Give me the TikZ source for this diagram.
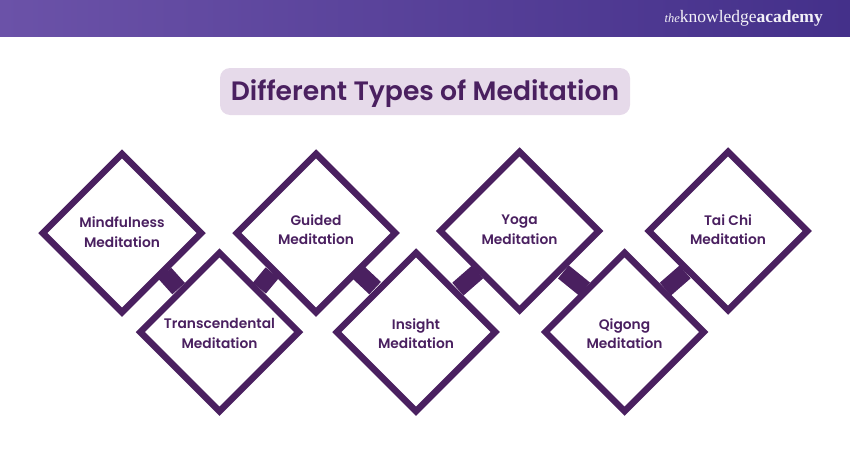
\documentclass[tikz,border=0pt]{standalone}
\usepackage{fontspec}
\usepackage{tikz}
\usetikzlibrary{shapes.geometric}
\setmainfont{Poppins}[BoldFont={Poppins SemiBold}]
\newfontfamily\logofont{Liberation Serif}
\definecolor{plum}{HTML}{4A2060}
\definecolor{lilac}{HTML}{E6DAEA}
\definecolor{headleft}{HTML}{6B52A8}
\definecolor{headmid}{HTML}{523C98}
\definecolor{headright}{HTML}{44308A}

\begin{document}
\begin{tikzpicture}[x=1pt,y=-1pt,
                    main node/.style={diamond, draw=plum, line width=6.5pt, aspect=1, inner sep=0pt, minimum width=161pt, minimum height=161pt},
                    type label/.style={align=center, text=plum, font=\fontsize{13.8}{19.5}\selectfont\bfseries},
                    link/.style={draw=plum, line width=17pt}]

  \useasboundingbox (0,0) rectangle (850,450);

  %Header%
  \node[minimum width=850pt, minimum height=36pt, inner sep=0pt, left color=headleft, middle color=headmid, right color=headright] (header) at (425,18) {};
  \node[text=white!92!headleft, anchor=east, inner sep=0pt, font=\logofont\fontsize{17.5}{20}\selectfont] (logo) at (823,18) {{\fontsize{12.5}{14}\selectfont\itshape the}knowledge\textbf{academy}};

  %Title%
  \node[fill=lilac, rounded corners=10pt, minimum width=410pt, minimum height=47pt, inner sep=0pt, text=plum, font=\fontsize{26.6}{30}\selectfont\bfseries] (title) at (425,91.5) {\raisebox{-8.5pt}[0pt][0pt]{Different Types of Meditation}};

  %Top row%
  \node[main node, label={[type label,yshift=1pt]center:Mindfulness\\Meditation}] (1) at (122,233) {};
  \node[main node, label={[type label,yshift=3.5pt]center:Guided\\Meditation}] (3) at (316,233) {};
  \node[main node, label={[type label,yshift=1.5pt]center:Yoga\\Meditation}] (5) at (519.5,231) {};
  \node[main node, label={[type label,yshift=1.5pt]center:Tai Chi\\Meditation}] (7) at (728,231) {};
  %Bottom row%
  \node[main node, label={[type label,yshift=-1.5pt]center:Transcendental\\Meditation}] (2) at (219.5,332) {};
  \node[main node, label={[type label,yshift=-1.5pt]center:Insight\\Meditation}] (4) at (416,332) {};
  \node[main node, label={[type label,yshift=-1.5pt]center:Qigong\\Meditation}] (6) at (624.5,332) {};

  \path[link]
    ([xshift=1pt,yshift=1.5pt]1.south east) edge ([xshift=1pt,yshift=1.5pt]2.north west)
    ([xshift=-2pt,yshift=2pt]2.north east) edge ([xshift=-2pt,yshift=2pt]3.south west)
    ([xshift=1pt,yshift=2pt]3.south east) edge ([xshift=1pt,yshift=2pt]4.north west)
    ([yshift=1pt]4.north east) edge ([yshift=1pt]5.south west)
    ([xshift=2pt,yshift=1pt]5.south east) edge ([xshift=2pt,yshift=1pt]6.north west)
    ([xshift=-1pt,yshift=1pt]6.north east) edge ([xshift=-1pt,yshift=1pt]7.south west);
\end{tikzpicture}
\end{document}
